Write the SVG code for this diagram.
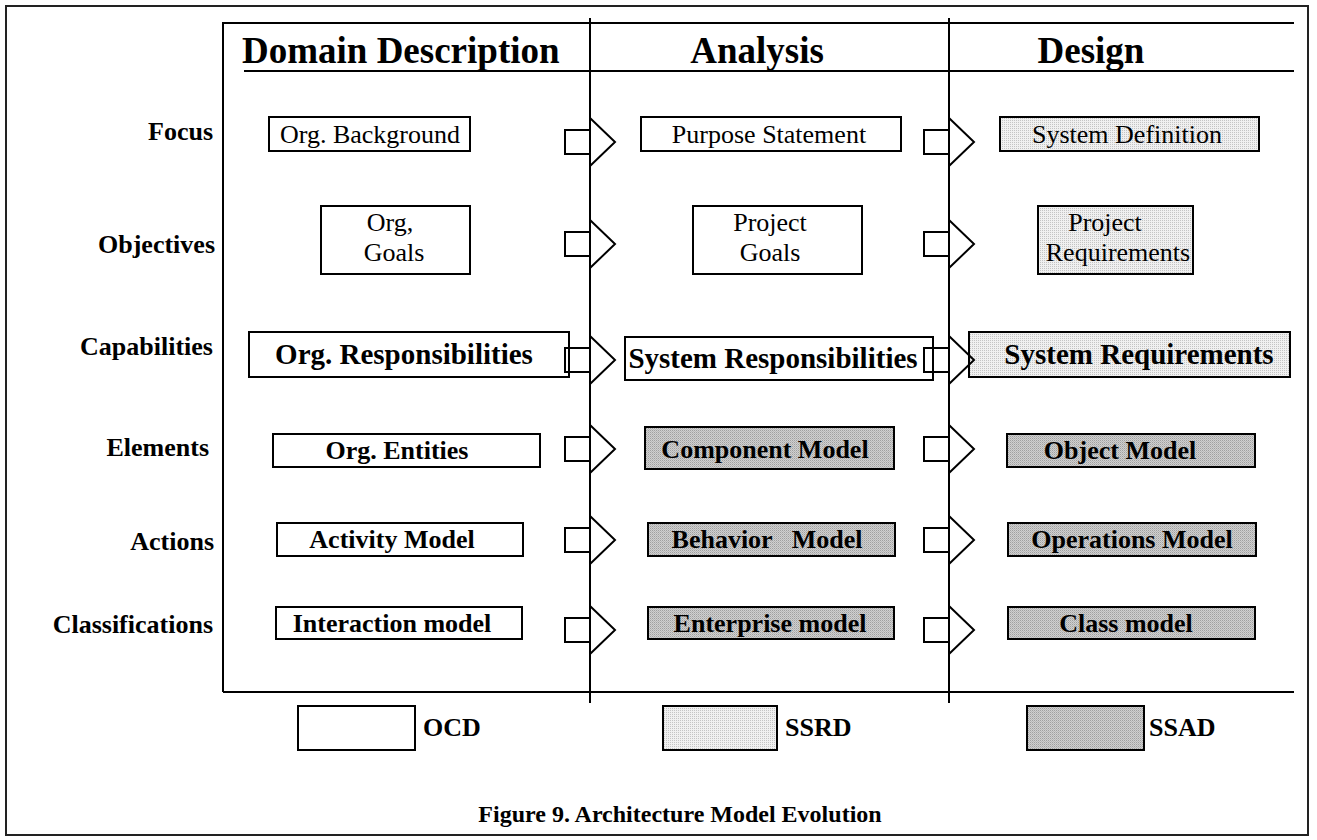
<svg xmlns="http://www.w3.org/2000/svg" xmlns:xlink="http://www.w3.org/1999/xlink" width="1317" height="840" viewBox="0 0 1317 840">
  <style>
    text { font-family: "Liberation Serif", "Times New Roman", serif; fill: #000; }
    .hd { font-size: 37px; font-weight: bold; }
    .rl { font-size: 26px; font-weight: bold; text-anchor: end; }
    .t { font-size: 26px; text-anchor: middle; }
    .tb { font-size: 26px; font-weight: bold; text-anchor: middle; }
    .tb3 { font-size: 29px; font-weight: bold; text-anchor: middle; }
    .lg { font-size: 26px; font-weight: bold; }
    .cap { font-size: 24px; font-weight: bold; text-anchor: middle; }
    .box { stroke: #000; stroke-width: 2; }
    .ocd { fill: #fff; }
    .ssrd { fill: url(#lightDots); }
    .ssad { fill: url(#darkDots); }
    .rule { stroke: #000; stroke-width: 2; fill: none; }
    .arr { stroke: #000; stroke-width: 2; fill: none; }
  </style>
  <defs>
    <!-- fine dot screens used for the document-type fills -->
    <pattern id="lightDots" width="2" height="2" patternUnits="userSpaceOnUse">
      <rect width="2" height="2" fill="#f0f0f0"/>
      <rect width="1" height="1" fill="#c4c4c4"/>
    </pattern>
    <pattern id="darkDots" width="2" height="2" patternUnits="userSpaceOnUse">
      <rect width="2" height="2" fill="#d0d0d0"/>
      <rect width="1" height="1" fill="#a0a0a0"/>
      <rect x="1" y="1" width="1" height="1" fill="#b8b8b8"/>
    </pattern>
    <!-- block arrow: stub left of the column rule, open head right of it -->
    <g id="blockArrow" class="arr">
      <rect x="-25" y="-12" width="25" height="24"/>
      <polyline points="0,-24 25,0 0,24"/>
    </g>
  </defs>

  <rect width="1317" height="840" fill="#fff"/>

  <!-- outer figure frame -->
  <rect x="6" y="6" width="1302" height="829" fill="none" stroke="#222" stroke-width="2"/>

  <!-- table rules -->
  <g id="table">
    <line class="rule" x1="223" y1="23" x2="1294" y2="23"/>
    <line class="rule" x1="223" y1="22" x2="223" y2="692"/>
    <line class="rule" x1="223" y1="692" x2="1294" y2="692"/>
    <line class="rule" x1="244" y1="71" x2="1294" y2="71"/>
    <line class="rule" x1="590" y1="18" x2="590" y2="703"/>
    <line class="rule" x1="949" y1="18" x2="949" y2="703"/>
  </g>

  <!-- column headings -->
  <g id="headings">
    <text class="hd" x="242" y="63">Domain Description</text>
    <text class="hd" x="757" y="63" text-anchor="middle">Analysis</text>
    <text class="hd" x="1091" y="63" text-anchor="middle">Design</text>
  </g>

  <!-- row headings -->
  <g id="rowLabels">
    <text class="rl" x="213" y="140">Focus</text>
    <text class="rl" x="215" y="253">Objectives</text>
    <text class="rl" x="213" y="355">Capabilities</text>
    <text class="rl" x="209" y="456">Elements</text>
    <text class="rl" x="214" y="550">Actions</text>
    <text class="rl" x="213" y="633">Classifications</text>
  </g>

  <!-- Focus -->
  <g id="orgBackground">
    <rect class="box ocd" x="269" y="117" width="201" height="34"/>
    <text class="t" x="370" y="143">Org. Background</text>
  </g>
  <g id="purposeStatement">
    <rect class="box ocd" x="641" y="117" width="260" height="34"/>
    <text class="t" x="769" y="143">Purpose Statement</text>
  </g>
  <g id="systemDefinition">
    <rect class="box ssrd" x="1000" y="117" width="259" height="34"/>
    <text class="t" x="1127" y="143">System Definition</text>
  </g>

  <!-- Objectives -->
  <g id="orgGoals">
    <rect class="box ocd" x="321" y="206" width="149" height="68"/>
    <text class="t" x="390" y="231">Org,</text>
    <text class="t" x="394" y="261">Goals</text>
  </g>
  <g id="projectGoals">
    <rect class="box ocd" x="693" y="206" width="169" height="68"/>
    <text class="t" x="770" y="231">Project</text>
    <text class="t" x="770" y="261">Goals</text>
  </g>
  <g id="projectRequirements">
    <rect class="box ssrd" x="1038" y="206" width="155" height="68"/>
    <text class="t" x="1105" y="231">Project</text>
    <text class="t" x="1118" y="261">Requirements</text>
  </g>

  <!-- Capabilities -->
  <g id="orgResponsibilities">
    <rect class="box ocd" x="249" y="332" width="320" height="45"/>
    <text class="tb3" x="404" y="364">Org. Responsibilities</text>
  </g>
  <g id="systemResponsibilities">
    <rect class="box ocd" x="625" y="337" width="308" height="43"/>
    <text class="tb3" x="773" y="368">System Responsibilities</text>
  </g>
  <g id="systemRequirements">
    <rect class="box ssrd" x="969" y="332" width="321" height="45"/>
    <text class="tb3" x="1139" y="364">System Requirements</text>
  </g>

  <!-- Elements -->
  <g id="orgEntities">
    <rect class="box ocd" x="273" y="434" width="267" height="33"/>
    <text class="tb" x="397" y="459">Org. Entities</text>
  </g>
  <g id="componentModel">
    <rect class="box ssad" x="645" y="427" width="249" height="42"/>
    <text class="tb" x="765" y="458">Component Model</text>
  </g>
  <g id="objectModel">
    <rect class="box ssad" x="1007" y="434" width="248" height="33"/>
    <text class="tb" x="1120" y="459">Object Model</text>
  </g>

  <!-- Actions -->
  <g id="activityModel">
    <rect class="box ocd" x="277" y="523" width="246" height="33"/>
    <text class="tb" x="392" y="548">Activity Model</text>
  </g>
  <g id="behaviorModel">
    <rect class="box ssad" x="648" y="523" width="247" height="33"/>
    <text class="tb" x="767" y="548" xml:space="preserve">Behavior   Model</text>
  </g>
  <g id="operationsModel">
    <rect class="box ssad" x="1008" y="523" width="248" height="33"/>
    <text class="tb" x="1132" y="548">Operations Model</text>
  </g>

  <!-- Classifications -->
  <g id="interactionModel">
    <rect class="box ocd" x="276" y="607" width="246" height="32"/>
    <text class="tb" x="392" y="632">Interaction model</text>
  </g>
  <g id="enterpriseModel">
    <rect class="box ssad" x="648" y="607" width="246" height="32"/>
    <text class="tb" x="770" y="632">Enterprise model</text>
  </g>
  <g id="classModel">
    <rect class="box ssad" x="1008" y="607" width="247" height="32"/>
    <text class="tb" x="1126" y="632">Class model</text>
  </g>

  <!-- evolution arrows across the column rules -->
  <g id="connectors">
    <use xlink:href="#blockArrow" x="590" y="142"/>
    <use xlink:href="#blockArrow" x="949" y="142"/>
    <use xlink:href="#blockArrow" x="590" y="244"/>
    <use xlink:href="#blockArrow" x="949" y="244"/>
    <use xlink:href="#blockArrow" x="590" y="360"/>
    <use xlink:href="#blockArrow" x="949" y="360"/>
    <use xlink:href="#blockArrow" x="590" y="449"/>
    <use xlink:href="#blockArrow" x="949" y="449"/>
    <use xlink:href="#blockArrow" x="590" y="540"/>
    <use xlink:href="#blockArrow" x="949" y="540"/>
    <use xlink:href="#blockArrow" x="590" y="630"/>
    <use xlink:href="#blockArrow" x="949" y="630"/>
  </g>

  <!-- legend -->
  <g id="legendOCD">
    <rect class="box ocd" x="298" y="706" width="117" height="44"/>
    <text class="lg" x="423" y="736">OCD</text>
  </g>
  <g id="legendSSRD">
    <rect class="box ssrd" x="663" y="706" width="114" height="44"/>
    <text class="lg" x="785" y="736">SSRD</text>
  </g>
  <g id="legendSSAD">
    <rect class="box ssad" x="1027" y="706" width="117" height="44"/>
    <text class="lg" x="1149" y="736">SSAD</text>
  </g>

  <text class="cap" x="680" y="822">Figure 9. Architecture Model Evolution</text>
</svg>
